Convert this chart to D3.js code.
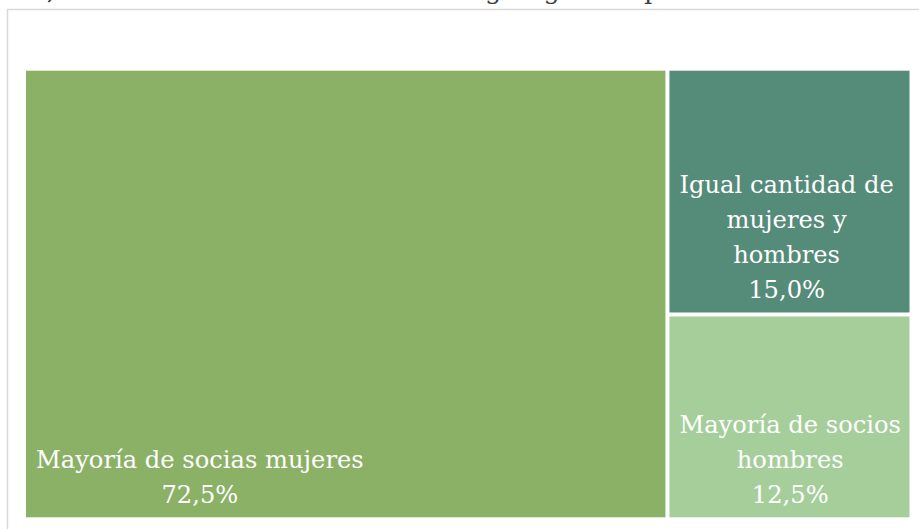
<!DOCTYPE html>
<html>
<head>
<meta charset="utf-8">
<script src="https://cdn.jsdelivr.net/npm/d3@7.9.0/dist/d3.min.js"></script>
<style>
  html, body { margin: 0; padding: 0; background: #fff; overflow: hidden; }
  svg { display: block; }
</style>
</head>
<body>
<svg id="chart" width="919" height="529"></svg>
<script>
// Data
const categories = ["Mayoría de socias mujeres", "Igual cantidad de mujeres y hombres", "Mayoría de socios hombres"];
const shares = [72.5, 15.0, 12.5];
// label lines as wrapped in the original
const labelLines = [
  ["Mayoría de socias mujeres"],
  ["Igual cantidad de", "mujeres y", "hombres"],
  ["Mayoría de socios", "hombres"]
];
const colors = ["#8bb166", "#548b79", "#a6ce9b"];
const titleText = "Gráfico 4, Distribución de las entidades según género predominante de sus socios";

const width = 919, height = 529;
const area = { x: 26, y: 70.7, w: 883.5, h: 446.6 };
const font = "'DejaVu Serif', serif";
const fontSize = 24.2;
const lineGap = 35;

const svg = d3.select("#chart");

// chart frame (runs past the window on the right and bottom)
svg.append("rect")
  .attr("x", 7.5).attr("y", 9.5)
  .attr("width", 1000).attr("height", 600)
  .attr("fill", "#fff")
  .attr("stroke", "#d9d9d9")
  .attr("stroke-width", 1.5);

// title, mostly above the visible area (as in the original crop)
const title = svg.append("text")
  .attr("y", -1.5)
  .attr("font-family", font)
  .attr("font-size", 26)
  .attr("fill", "#404040")
  .text(titleText);
// line the "según" g up with where it sits in the reference
const gIdx = titleText.indexOf("según") + 2;
const offset = title.node().getSubStringLength(0, gIdx);
title.attr("x", 485 - offset);

const data = categories.map((c, i) => ({ name: c, value: shares[i], lines: labelLines[i], color: colors[i] }));

const root = d3.hierarchy({ children: data })
  .sum(d => d.value || 0);

d3.treemap()
  .size([area.w, area.h])
  .paddingInner(4)
  .tile(d3.treemapSquarify)(root);

const fmt = v => v.toFixed(1).replace(".", ",") + "%";

const leaves = svg.append("g")
  .attr("transform", `translate(${area.x},${area.y})`)
  .selectAll("g")
  .data(root.leaves())
  .join("g");

leaves.append("rect")
  .attr("x", d => d.x0)
  .attr("y", d => d.y0)
  .attr("width", d => d.x1 - d.x0)
  .attr("height", d => d.y1 - d.y0)
  .attr("fill", d => d.data.color);

leaves.each(function (d) {
  const g = d3.select(this);
  const lines = d.data.lines.concat([fmt(d.data.value)]);
  const txt = g.append("text")
    .attr("font-family", font)
    .attr("font-size", fontSize)
    .attr("fill", "#fff")
    .attr("text-anchor", "middle");
  const spans = lines.map(l => txt.append("tspan").text(l));
  // block is left-aligned in the cell, lines centred inside the block
  const blockW = d3.max(spans, s => s.node().getComputedTextLength());
  const cx = d.x0 + 10 + blockW / 2;
  const lastY = d.y1 - 14.5;
  spans.forEach((s, i) => {
    s.attr("x", cx).attr("y", lastY - (lines.length - 1 - i) * lineGap);
  });
});
</script>
</body>
</html>
